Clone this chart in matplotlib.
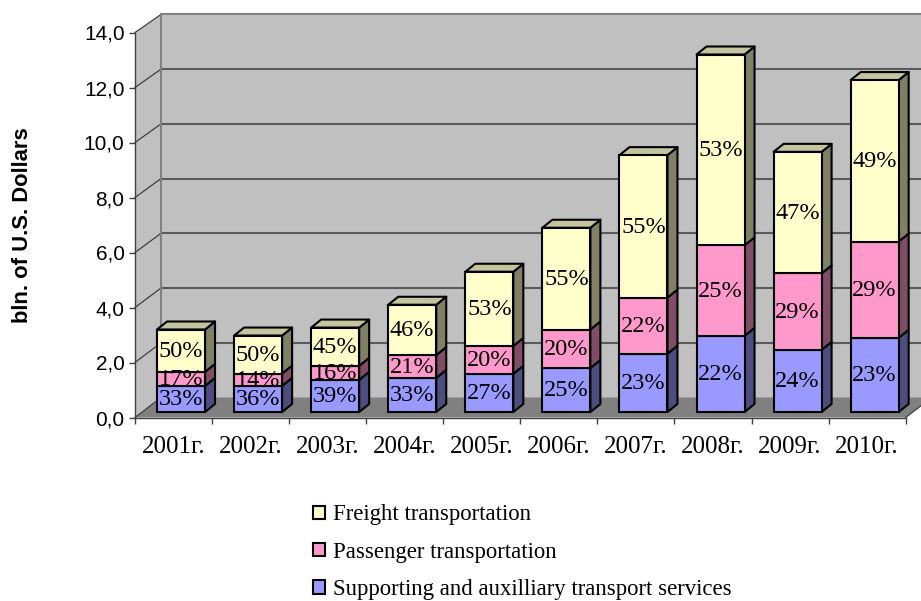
import numpy as np
import matplotlib
matplotlib.use('Agg')
import matplotlib.pyplot as plt
from matplotlib.patches import Polygon

years = ['2001г.', '2002г.', '2003г.', '2004г.', '2005г.', '2006г.', '2007г.', '2008г.', '2009г.', '2010г.']
supporting = [0.95, 0.95, 1.17, 1.24, 1.39, 1.60, 2.12, 2.77, 2.26, 2.70]
passenger = [0.51, 0.45, 0.51, 0.83, 1.01, 1.40, 2.04, 3.29, 2.78, 3.50]
freight = [1.54, 1.38, 1.39, 1.83, 2.70, 3.70, 5.18, 6.94, 4.42, 5.87]
supporting_pct = ['33%', '36%', '39%', '33%', '27%', '25%', '23%', '22%', '24%', '23%']
passenger_pct = ['17%', '14%', '16%', '21%', '20%', '20%', '22%', '25%', '29%', '29%']
freight_pct = ['50%', '50%', '45%', '46%', '53%', '55%', '55%', '53%', '47%', '49%']
y_ticks = [0, 2, 4, 6, 8, 10, 12, 14]
y_labels = ['0,0', '2,0', '4,0', '6,0', '8,0', '10,0', '12,0', '14,0']

W, H = 921, 601
SERIF = 'Liberation Serif'
SANS = 'Liberation Sans'

# front plane of the chart box, in pixels
left, right, bottom, top = 135, 905.7, 417.5, 32.5
px_x = (right - left) / 10
px_y = (bottom - top) / 14

fig = plt.figure(figsize=(W / 100, H / 100), dpi=100)
ax = fig.add_axes([left / W, 1 - bottom / H, (right - left) / W, (bottom - top) / H])
ax.set_xlim(-0.5, 9.5)
ax.set_ylim(0, 14)

# box depth and bar depth, converted to data units
wall_dx = 26 / px_x
wall_dy = 20 / px_y
back_scale = 0.995
bar_dx = 10 / px_x
bar_dy = 8 / px_y
bar_w = 48 / px_x
bar_off = 7.5 / px_x
bar_base = 5.5 / px_y

x0, x1 = -0.5, 9.5
back_top = wall_dy + 14 * back_scale

# walls and floor
ax.add_patch(Polygon([(x0 + wall_dx, wall_dy), (x1 + wall_dx, wall_dy), (x1 + wall_dx, back_top), (x0 + wall_dx, back_top)],
                     fc='#C0C0C0', ec='none', zorder=1, clip_on=False))
ax.add_patch(Polygon([(x0, 0), (x0 + wall_dx, wall_dy), (x0 + wall_dx, back_top), (x0, 14)],
                     fc='#C0C0C0', ec='none', zorder=1, clip_on=False))
ax.add_patch(Polygon([(x0, 0), (x1, 0), (x1 + wall_dx, wall_dy), (x0 + wall_dx, wall_dy)],
                     fc='#808080', ec='none', zorder=2, clip_on=False))

# gridlines on back wall + left wall
for v in y_ticks:
    yb = wall_dy + v * back_scale
    col = '#808080' if v == 14 else '#5A5A5A'
    if v > 0:
        ax.plot([x0 + wall_dx, x1 + wall_dx], [yb, yb], color=col, lw=1.5, zorder=2, clip_on=False, solid_capstyle='butt')
    ax.plot([x0, x0 + wall_dx], [v, yb], color='#404040', lw=0.9, zorder=2, clip_on=False)
ax.plot([x0 + wall_dx, x0 + wall_dx], [wall_dy, back_top], color='#808080', lw=1.5, zorder=2, clip_on=False)
ax.plot([x1, x1 + wall_dx], [0, wall_dy], color='#404040', lw=0.9, zorder=3, clip_on=False)

series = [
    (supporting, supporting_pct, 'Supporting and auxilliary transport services', '#9999FF', '#4D4D80'),
    (passenger, passenger_pct, 'Passenger transportation', '#FF99CC', '#804D66'),
    (freight, freight_pct, 'Freight transportation', '#FFFFCC', '#808066'),
]

xs = np.arange(len(years)) + bar_off
base = np.full(len(years), bar_base)
handles = []
for vals, pcts, name, face, side in series:
    vals = np.array(vals)
    bars = ax.bar(xs, vals, bar_w, bottom=base, color=face, edgecolor='black', linewidth=1.5, zorder=5, label=name, clip_on=False)
    handles.append(bars)
    for xc, b, v in zip(xs, base, vals):
        xr = xc + bar_w / 2
        ax.add_patch(Polygon([(xr, b), (xr + bar_dx, b + bar_dy), (xr + bar_dx, b + v + bar_dy), (xr, b + v)],
                             fc=side, ec='black', lw=1.5, zorder=4, clip_on=False, joinstyle='round'))
    base = base + vals

# bar tops
for xc, b in zip(xs, base):
    xl = xc - bar_w / 2
    xr = xc + bar_w / 2
    ax.add_patch(Polygon([(xl, b), (xr, b), (xr + bar_dx, b + bar_dy), (xl + bar_dx, b + bar_dy)],
                         fc='#C4C4A0', ec='black', lw=1.5, zorder=4, clip_on=False, joinstyle='round'))

# percent labels on top of the faces
base = np.full(len(years), bar_base)
for vals, pcts, name, face, side in series:
    vals = np.array(vals)
    for xc, b, v, p in zip(xs, base, vals, pcts):
        ax.text(xc, b + v / 2 - 0.03, p, ha='center', va='center', family=SERIF, fontsize=17.5, color='black', zorder=7)
    base = base + vals

# axes
for name in ['top', 'right']:
    ax.spines[name].set_visible(False)
for name in ['left', 'bottom']:
    ax.spines[name].set_color('#404040')
    ax.spines[name].set_linewidth(1.0)
    ax.spines[name].set_zorder(3)
ax.patch.set_visible(False)

ax.set_yticks(y_ticks)
ax.set_yticklabels(y_labels, family=SANS, fontsize=15)
ax.tick_params(axis='y', length=4.5, width=1, color='#404040', pad=3)
ax.set_xticks(np.arange(-0.5, 10, 1))
ax.set_xticklabels([])
ax.tick_params(axis='x', which='major', length=4.5, width=1, color='#404040')
ax.set_xticks(np.arange(len(years)), minor=True)
ax.set_xticklabels(years, minor=True, family=SERIF, fontsize=18)
ax.tick_params(axis='x', which='minor', length=0, pad=13)

fig.text(22 / W, 1 - 225 / H, 'bln. of U.S. Dollars', rotation=90, ha='center', va='center',
         family=SANS, fontweight='bold', fontsize=15.8)

leg = fig.legend(handles[::-1], [s[2] for s in series[::-1]], loc='upper left',
                 bbox_to_anchor=(306 / W, 1 - 497.5 / H), frameon=False,
                 prop={'family': SERIF, 'size': 16.4}, handlelength=0.52, handleheight=0.52,
                 handletextpad=0.36, labelspacing=0.72, borderpad=0.3, borderaxespad=0)

fig.savefig('out.png', dpi=100)
